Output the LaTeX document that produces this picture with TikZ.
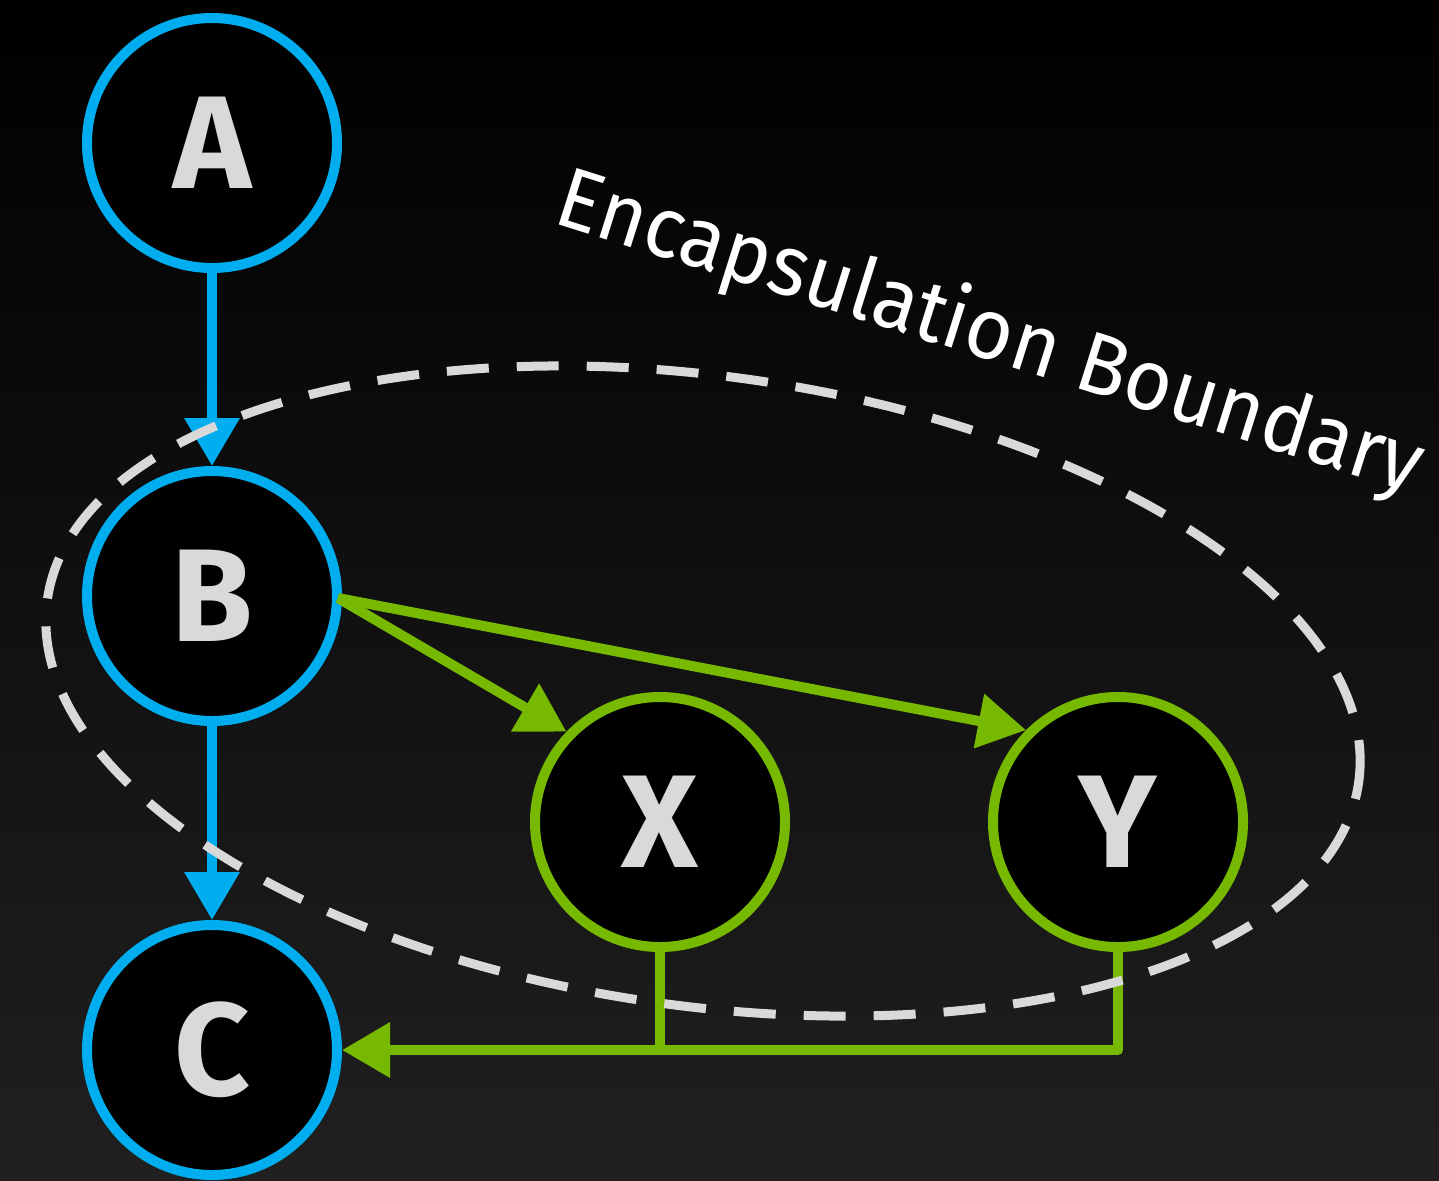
\documentclass[tikz,border=0pt]{standalone}
\usepackage{fontspec}
\setmainfont{Fira Sans}
\usetikzlibrary{arrows.meta,calc}

\definecolor{nvblue}{HTML}{00AEEF}
\definecolor{nvgreen}{HTML}{76B900}
\definecolor{lightgray}{HTML}{D9D9D9}
\definecolor{bgmiddle}{HTML}{0C0C0C}
\definecolor{bgbottom}{HTML}{202020}

\tikzset{
  vertex/.style={circle, draw, line width=5pt, fill=black, minimum size=125pt,
    inner sep=0pt, text=lightgray, font=\fontsize{66}{66}\selectfont\bfseries},
  bluevertex/.style={vertex, draw=nvblue},
  greenvertex/.style={vertex, draw=nvgreen},
  tip/.tip={Triangle[width=26.5pt, length=24pt]},
  blueedge/.style={draw=nvblue, line width=5pt, -tip},
  greenedge/.style={draw=nvgreen, line width=5pt, line join=round, -tip},
  greenline/.style={draw=nvgreen, line width=5pt, line join=round},
  boundary/.style={draw=lightgray, line width=4.5pt, dash pattern=on 21pt off 14pt},
  boundarylabel/.style={text=white, font=\fontsize{43}{43}\selectfont, inner sep=0pt}
}

\begin{document}
\begin{tikzpicture}[x=0.5pt, y=0.5pt]
  % canvas and backdrop
  \useasboundingbox (0,0) rectangle (1439,-1180);
  \shade[top color=black, middle color=bgmiddle, bottom color=bgbottom] (0,0) rectangle (1439,-1180);

  % vertices
  \node[bluevertex]  (A) at (212,-143)  {A};
  \node[bluevertex]  (B) at (212,-596)  {B};
  \node[bluevertex]  (C) at (212,-1050) {C};
  \node[greenvertex] (X) at (660,-822)  {X};
  \node[greenvertex] (Y) at (1118,-822) {Y};

  % dependencies
  \draw[blueedge] (A) -- (B);
  \draw[blueedge] (B) -- (C);

  \coordinate (bo) at ($(B.center)+(126,-2)$);
  \draw[greenedge] (bo) -- (X.136);
  \draw[greenedge] (bo) -- (Y.135);

  \draw[greenedge] (Y.south) |- (C.east);
  \draw[greenline] (X.south) -- (X.south |- C.east);

  % encapsulation boundary
  \draw[boundary, rotate around={-7.9:(703,-691)}] (703,-691) ellipse [x radius=662, y radius=315];
  \node[boundarylabel, anchor=base west, rotate=-17.5] (label) at (551,-222)
    {\scalebox{0.95}[1]{Encapsulation Boundary}};
\end{tikzpicture}
\end{document}
